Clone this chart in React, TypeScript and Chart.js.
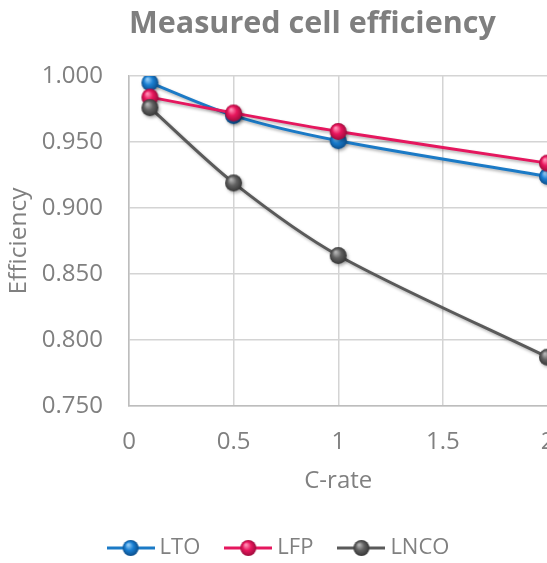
import React, { useEffect, useRef } from "react";
import { Chart, registerables } from "chart.js";

Chart.register(...registerables);

const cRates = [0.1, 0.5, 1, 2];
const ltoEff = [0.995, 0.97, 0.951, 0.924];
const lfpEff = [0.984, 0.972, 0.958, 0.934];
const lncoEff = [0.976, 0.919, 0.864, 0.787];
const seriesNames = ["LTO", "LFP", "LNCO"];
const xTickValues = [0, 0.5, 1, 1.5, 2];
const yTickValues = [0.75, 0.8, 0.85, 0.9, 0.95, 1.0];

const FONT = "'Open Sans', 'DejaVu Sans', sans-serif";
const TEXT = "#808080";

type Palette = { line: string; light: string; base: string; dark: string };
const palettes: Palette[] = [
  { line: "#1b7ac6", light: "#8cc8f5", base: "#1a7fd2", dark: "#0a4a86" },
  { line: "#e5175e", light: "#ff8ab2", base: "#e8175d", dark: "#9a0a3a" },
  { line: "#5a5a5a", light: "#b0b0b0", base: "#626262", dark: "#333333" },
];

function drawSphere(ctx: CanvasRenderingContext2D, cx: number, cy: number, r: number, p: Palette) {
  const g = ctx.createRadialGradient(cx - r * 0.3, cy - r * 0.4, r * 0.1, cx, cy, r * 1.05);
  g.addColorStop(0, p.light);
  g.addColorStop(0.45, p.base);
  g.addColorStop(1, p.dark);
  ctx.beginPath();
  ctx.arc(cx, cy, r, 0, Math.PI * 2);
  ctx.fillStyle = g;
  ctx.fill();
}

function makeSphere(p: Palette, r: number) {
  const c = document.createElement("canvas");
  const s = Math.ceil(r * 2 + 2);
  c.width = s;
  c.height = s;
  const ctx = c.getContext("2d")!;
  drawSphere(ctx, s / 2, s / 2, r, p);
  return c;
}

function makeLegendImg(p: Palette, r: number) {
  const c = document.createElement("canvas");
  c.width = 48;
  c.height = 20;
  const ctx = c.getContext("2d")!;
  ctx.strokeStyle = p.line;
  ctx.lineWidth = 3;
  ctx.beginPath();
  ctx.moveTo(0, 10);
  ctx.lineTo(48, 10);
  ctx.stroke();
  drawSphere(ctx, 24, 10, r, p);
  return c;
}

export default function App() {
  const ref = useRef<HTMLCanvasElement | null>(null);

  useEffect(() => {
    document.body.style.margin = "0";
    const canvas = ref.current!;
    const spheres = palettes.map((p) => makeSphere(p, 8.5));
    const legendImgs = palettes.map((p) => makeLegendImg(p, 8));
    const values = [ltoEff, lfpEff, lncoEff];

    const shadowPlugin = {
      id: "lineShadow",
      beforeDatasetDraw(chart: any) {
        const ctx = chart.ctx;
        ctx.save();
        ctx.shadowColor = "rgba(0,0,0,0.3)";
        ctx.shadowBlur = 3;
        ctx.shadowOffsetX = 1.5;
        ctx.shadowOffsetY = 2;
      },
      afterDatasetDraw(chart: any) {
        chart.ctx.restore();
      },
    };

    const chart = new Chart(canvas, {
      type: "line",
      data: {
        datasets: seriesNames.map((name, i) => ({
          label: name,
          data: cRates.map((x, j) => ({ x, y: values[i][j] })),
          borderColor: palettes[i].line,
          backgroundColor: palettes[i].base,
          borderWidth: 3,
          tension: 0.3,
          pointStyle: spheres[i] as any,
          pointRadius: 8.5,
          pointHoverRadius: 8.5,
          order: 3 - i,
        })),
      },
      options: {
        animation: false,
        responsive: false,
        devicePixelRatio: 1,
        layout: { padding: { left: 3, right: 0, top: 0, bottom: 0 } },
        scales: {
          x: {
            type: "linear",
            min: 0,
            max: 2,
            afterBuildTicks: (scale: any) => {
              scale.ticks = xTickValues.map((v) => ({ value: v }));
            },
            afterFit: (scale: any) => {
              scale.height = 101;
            },
            ticks: {
              color: TEXT,
              font: { family: FONT, size: 24 },
              padding: 0,
              maxRotation: 0,
              callback: (v: any) => String(v),
            },
            grid: {
              color: "#d4d4d4",
              lineWidth: 1.5,
              drawTicks: true,
              tickLength: 22,
              tickColor: "rgba(0,0,0,0)",
            },
            border: { color: "#bdbdbd", width: 1.5 },
            title: {
              display: true,
              text: "C-rate",
              color: TEXT,
              font: { family: FONT, size: 24 },
              padding: { top: 0, bottom: 11 },
            },
          },
          y: {
            type: "linear",
            min: 0.75,
            max: 1.0,
            afterBuildTicks: (scale: any) => {
              scale.ticks = yTickValues.map((v) => ({ value: v }));
            },
            afterFit: (scale: any) => {
              scale.width = 126;
            },
            ticks: {
              color: TEXT,
              font: { family: FONT, size: 24 },
              padding: 0,
              callback: (v: any) => Number(v).toFixed(3),
            },
            grid: {
              color: "#d4d4d4",
              lineWidth: 1.5,
              drawTicks: true,
              tickLength: 26,
              tickColor: "rgba(0,0,0,0)",
            },
            border: { color: "#bdbdbd", width: 1.5 },
            title: {
              display: true,
              text: "Efficiency",
              color: TEXT,
              font: { family: FONT, size: 24.5 },
              padding: { top: 1, bottom: 0 },
            },
          },
        },
        plugins: {
          title: {
            display: true,
            text: "Measured cell efficiency",
            color: "#7f7f7f",
            align: "start",
            fullSize: false,
            font: { family: FONT, size: 30.5, weight: "bold" },
            padding: { top: 6, bottom: 33.4 },
          },
          legend: {
            display: true,
            position: "bottom",
            labels: {
              usePointStyle: true,
              pointStyleWidth: 36,
              padding: 30,
              color: TEXT,
              font: { family: FONT, size: 22 },
              sort: (a: any, b: any) => a.datasetIndex - b.datasetIndex,
              generateLabels: (c: any) => {
                const items = (Chart.defaults.plugins.legend.labels as any).generateLabels(c);
                return items.map((it: any) => ({ ...it, pointStyle: legendImgs[it.datasetIndex] }));
              },
            },
          },
          tooltip: { enabled: false },
        },
      },
      plugins: [shadowPlugin],
    } as any);

    return () => chart.destroy();
  }, []);

  return (
    <div style={{ width: 547, height: 563, overflow: "hidden", position: "relative", background: "#fff" }}>
      <canvas ref={ref} width={559} height={569} style={{ display: "block" }} />
    </div>
  );
}
